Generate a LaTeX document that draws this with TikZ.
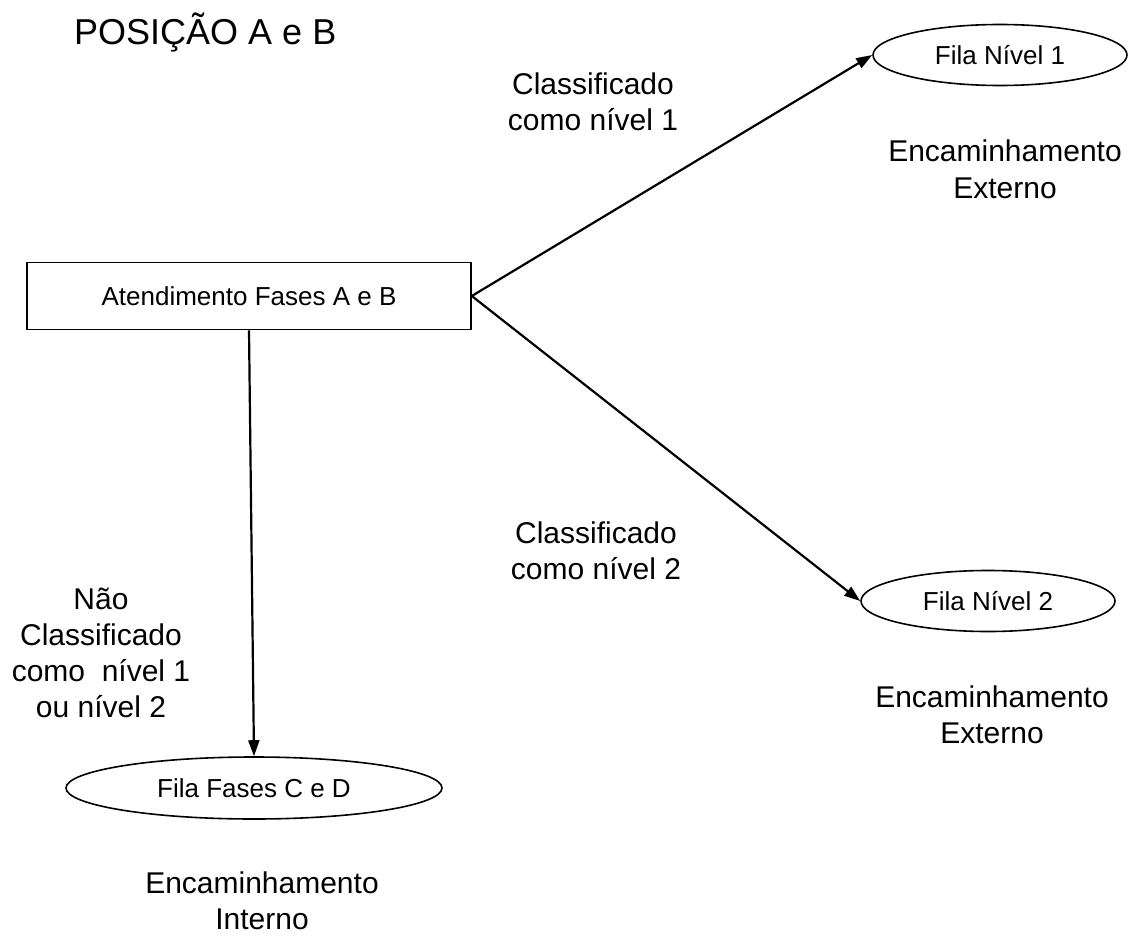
\documentclass[tikz,border=0pt]{standalone}
\usepackage{fontspec}
\setmainfont{Liberation Sans}
\usetikzlibrary{arrows.meta,shapes.geometric}
\begin{document}
\begin{tikzpicture}[x=1pt,y=-1pt,
  box/.style={draw,line width=1.6pt,rectangle,minimum width=444pt,minimum height=67pt,inner sep=0pt,font=\fontsize{26}{30}\selectfont},
  oval/.style={draw,line width=1.6pt,ellipse,minimum width=254pt,minimum height=61pt,inner sep=0pt,font=\fontsize{26}{30}\selectfont},
  lbl/.style={align=center,inner sep=0pt,anchor=base,font=\fontsize{30}{36}\selectfont},
  conn/.style={line width=2.2pt,-{Triangle[length=16pt,width=11pt]}}]
\useasboundingbox (0,0) rectangle (1137,936);
\node[anchor=base west,inner sep=0pt,font=\fontsize{36}{40}\selectfont] (title) at (74,45) {POSIÇÃO A e B};
\node[box] (r) at (249,296) {Atendimento Fases A e B};
\node[oval] (e1) at (1000,55) {Fila Nível 1};
\node[oval] (e2) at (988,601) {Fila Nível 2};
\node[oval,minimum width=376pt,minimum height=62pt] (e3) at (254,788) {Fila Fases C e D};
\draw[conn] (r.east) -- (e1.west);
\draw[conn] (r.east) -- (e2.west);
\draw[conn] (r.south) -- (e3.north);
\node[lbl] (l1) at (593,131) {Classificado\\como nível 1};
\node[lbl] (l2) at (1005,198) {Encaminhamento\\Externo};
\node[lbl] (l3) at (596,579) {Classificado\\como nível 2};
\node[lbl] (l4) at (101,717) {Não\\Classificado\\como~ nível 1\\ou nível 2};
\node[lbl] (l5) at (992,743) {Encaminhamento\\Externo};
\node[lbl] (l6) at (262,929) {Encaminhamento\\Interno};
\end{tikzpicture}
\end{document}
